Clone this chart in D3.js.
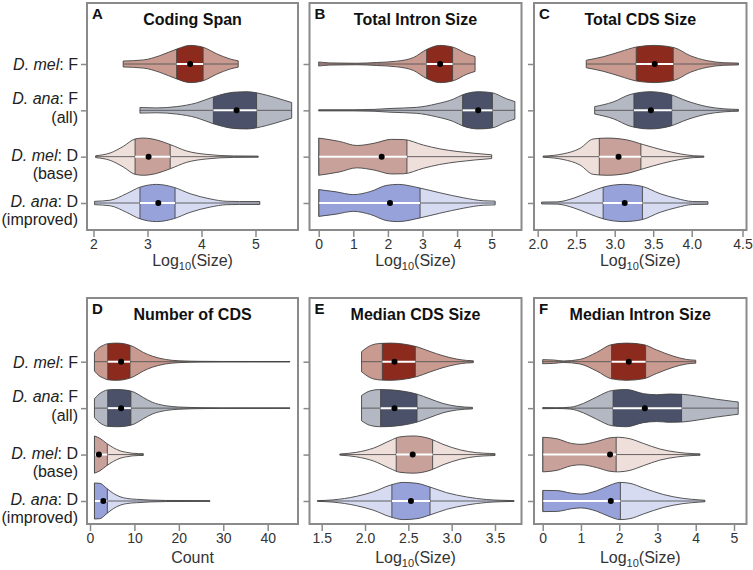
<!DOCTYPE html>
<html><head><meta charset="utf-8">
<script src="https://cdn.jsdelivr.net/npm/d3@7"></script>
<style>
body{margin:0;background:#fff}
svg{display:block}
text{font-family:"Liberation Sans",Arial,Helvetica,sans-serif}
</style>
</head><body>
<svg id="c" width="753" height="570"></svg>
<script>
// ---------------- DATA ----------------
const groups = ["melF", "anaF", "melD", "anaD"];
const speciesNames = ["D. mel", "D. ana", "D. mel", "D. ana"];
const sampleSuffix = [": F", ": F", ": D", ": D"];
const sampleNotes = ["", "(all)", "(base)", "(improved)"];

const panelLetters = ["A", "B", "C", "D", "E", "F"];
const panelTitles = ["Coding Span", "Total Intron Size", "Total CDS Size", "Number of CDS", "Median CDS Size", "Median Intron Size"];
const axisTitles = ["log", "log", "log", "Count", "log", "log"];

const ticksA = [2, 3, 4, 5];
const ticksB = [0, 1, 2, 3, 4, 5];
const ticksC = [2.0, 2.5, 3.0, 3.5, 4.0, 4.5];
const ticksD = [0, 10, 20, 30, 40];
const ticksE = [1.5, 2.0, 2.5, 3.0, 3.5];
const ticksF = [0, 1, 2, 3, 4, 5];

// density profiles: [value, relative half-width]
const codingSpanDensity = [
  [[2.55,0.16],[2.93,0.22],[3.23,0.45],[3.54,0.8],[3.79,1.0],[4.03,0.9],[4.28,0.55],[4.53,0.27],[4.68,0.17]],
  [[2.86,0.15],[3.17,0.13],[3.54,0.2],[3.91,0.4],[4.22,0.72],[4.59,0.97],[4.84,1.0],[5.2,0.82],[5.52,0.55],[5.67,0.42]],
  [[2.04,0.05],[2.31,0.2],[2.55,0.55],[2.77,0.95],[2.92,1.0],[3.17,0.9],[3.42,0.65],[3.73,0.3],[4.1,0.12],[4.59,0.04],[5.05,0.03]],
  [[2.02,0.09],[2.31,0.15],[2.61,0.5],[2.86,0.85],[3.17,1.0],[3.48,0.85],[3.79,0.5],[4.16,0.22],[4.47,0.09],[4.7,0.08],[5.08,0.08]]
];
const codingSpanQuart = [[3.54,4.03],[4.22,5.02],[2.77,3.42],[2.86,3.51]];
const codingSpanMean = [3.79, 4.65, 3.02, 3.2];

const intronTotalDensity = [
  [[0,0.11],[0.3,0.06],[0.62,0.05],[1.1,0.04],[1.68,0.08],[2.25,0.15],[2.74,0.35],[3.12,0.78],[3.5,1.0],[3.89,0.9],[4.28,0.55],[4.52,0.4]],
  [[0,0.03],[1.0,0.03],[1.6,0.05],[2.06,0.1],[2.83,0.16],[3.41,0.35],[3.89,0.6],[4.18,0.85],[4.61,1.0],[5.0,0.95],[5.43,0.62],[5.67,0.47]],
  [[0,1.0],[0.6,0.82],[1.1,0.6],[1.6,0.72],[2.1,0.93],[2.45,0.92],[3.03,0.62],[3.5,0.42],[4.0,0.28],[4.5,0.18],[5.0,0.1]],
  [[0,0.72],[0.5,0.6],[1.0,0.45],[1.5,0.62],[1.97,0.95],[2.3,1.0],[2.93,0.8],[3.5,0.55],[4.18,0.28],[4.76,0.12],[5.1,0.1]]
];
const intronTotalQuart = [[3.12,3.87],[4.16,5.02],[0,2.55],[0,2.93]];
const intronTotalMean = [3.51, 4.61, 1.82, 2.06];

const cdsTotalDensity = [
  [[2.63,0.2],[2.86,0.4],[3.07,0.66],[3.29,0.92],[3.51,1.0],[3.77,0.88],[3.98,0.45],[4.15,0.18],[4.31,0.07],[4.46,0.05]],
  [[2.74,0.2],[2.98,0.45],[3.2,0.85],[3.46,1.0],[3.72,0.85],[3.94,0.5],[4.15,0.2],[4.32,0.08],[4.46,0.05]],
  [[2.07,0.03],[2.33,0.15],[2.55,0.45],[2.72,0.95],[2.9,1.0],[3.16,0.9],[3.37,0.65],[3.63,0.35],[3.85,0.15],[4.02,0.05],[4.12,0.03]],
  [[2.05,0.05],[2.25,0.06],[2.46,0.25],[2.68,0.6],[2.85,0.85],[3.11,1.0],[3.35,0.9],[3.59,0.5],[3.8,0.25],[4.01,0.08],[4.16,0.07]]
];
const cdsTotalQuart = [[3.28,3.76],[3.25,3.74],[2.8,3.34],[2.85,3.36]];
const cdsTotalMean = [3.52, 3.47, 3.05, 3.13];

const cdsCountDensity = [
  [[1,0.5],[2,0.75],[3,0.88],[4,0.97],[6,1.0],[8,0.95],[10,0.78],[12,0.5],[14,0.3],[17,0.12],[20,0.05],[25,0.02],[30,0.012],[45,0.01]],
  [[1,0.5],[2,0.75],[3,0.9],[4,0.98],[6,1.0],[8,0.97],[10,0.85],[12,0.57],[14,0.32],[17,0.13],[20,0.06],[25,0.025],[30,0.012],[45,0.01]],
  [[1,1.0],[2.25,0.87],[3.75,0.6],[5.25,0.37],[6.76,0.2],[8.2,0.12],[9.5,0.07],[11,0.05],[12,0.05]],
  [[1,0.97],[2.25,0.95],[3.75,0.68],[5.25,0.41],[6.76,0.23],[8.2,0.14],[10.5,0.09],[13.5,0.05],[17,0.03],[27,0.02]]
];
const cdsCountQuart = [[4,9],[4,9.2],[1,3.9],[1,3.9]];
const cdsCountMean = [7, 7, 2, 3];

const cdsMedianDensity = [
  [[1.96,0.54],[2.06,0.86],[2.17,0.98],[2.29,1.0],[2.44,0.95],[2.6,0.8],[2.75,0.55],[2.9,0.32],[3.06,0.14],[3.17,0.07],[3.25,0.05]],
  [[1.96,0.68],[2.06,0.93],[2.17,1.0],[2.33,0.97],[2.48,0.88],[2.6,0.75],[2.75,0.5],[2.9,0.25],[3.06,0.1],[3.24,0.04]],
  [[1.71,0.03],[1.9,0.12],[2.1,0.35],[2.29,0.75],[2.4,0.95],[2.56,1.0],[2.75,0.85],[2.9,0.55],[3.1,0.25],[3.29,0.1],[3.44,0.06],[3.5,0.05]],
  [[1.45,0.02],[1.63,0.06],[1.9,0.25],[2.1,0.5],[2.29,0.85],[2.44,1.0],[2.6,0.95],[2.75,0.75],[2.94,0.45],[3.17,0.22],[3.4,0.08],[3.56,0.04],[3.72,0.02]]
];
const cdsMedianQuart = [[2.2,2.58],[2.18,2.6],[2.36,2.78],[2.31,2.75]];
const cdsMedianMean = [2.34, 2.34, 2.55, 2.53];

const intronMedianDensity = [
  [[0,0.11],[0.29,0.09],[0.54,0.04],[0.97,0.12],[1.41,0.5],[1.8,0.92],[2.19,1.0],[2.63,0.92],[2.98,0.63],[3.41,0.3],[3.76,0.12],[4.0,0.08]],
  [[0,0.03],[0.37,0.02],[0.72,0.05],[1.06,0.25],[1.41,0.6],[1.82,0.95],[2.19,1.0],[2.63,0.78],[2.98,0.72],[3.32,0.76],[3.67,0.74],[4.02,0.65],[4.54,0.48],[4.98,0.36],[5.11,0.33]],
  [[0,0.93],[0.37,0.85],[0.75,0.6],[1.0,0.55],[1.41,0.7],[1.76,0.9],[1.98,0.93],[2.28,0.85],[2.63,0.6],[3.06,0.3],[3.5,0.13],[3.93,0.05],[4.11,0.04]],
  [[0,0.57],[0.37,0.56],[0.75,0.42],[1.0,0.37],[1.41,0.55],[1.76,0.85],[2.02,1.0],[2.28,0.95],[2.63,0.7],[3.15,0.35],[3.67,0.14],[4.1,0.06],[4.24,0.04]]
];
const intronMedianQuart = [[1.8,2.69],[1.84,3.63],[0,1.92],[0,2.03]];
const intronMedianMean = [2.25, 2.67, 1.76, 1.78];

// ---------------- LAYOUT / STYLE ----------------
const outerFill = ["#c99a90", "#b4b8c3", "#eedfdb", "#d6dbf1"];
const boxFill = ["#8c2b1d", "#4a5168", "#c9a19b", "#97a2db"];
const frameColor = "#8a8a8a";

const panelData = [
  {ticks: ticksA, dens: codingSpanDensity, quart: codingSpanQuart, mean: codingSpanMean, fmt: d3.format("d"), dom: [2,5], rng: [93.5,255.5]},
  {ticks: ticksB, dens: intronTotalDensity, quart: intronTotalQuart, mean: intronTotalMean, fmt: d3.format("d"), dom: [0,5], rng: [318.7,491.7]},
  {ticks: ticksC, dens: cdsTotalDensity, quart: cdsTotalQuart, mean: cdsTotalMean, fmt: d3.format(".1f"), dom: [2,4,4.5], rng: [537.7,691.7,742.5]},
  {ticks: ticksD, dens: cdsCountDensity, quart: cdsCountQuart, mean: cdsCountMean, fmt: d3.format("d"), dom: [0,40], rng: [90,267.7]},
  {ticks: ticksE, dens: cdsMedianDensity, quart: cdsMedianQuart, mean: cdsMedianMean, fmt: d3.format(".1f"), dom: [1.5,3.5], rng: [321.7,495]},
  {ticks: ticksF, dens: intronMedianDensity, quart: intronMedianQuart, mean: intronMedianMean, fmt: d3.format("d"), dom: [0,5], rng: [542.7,734]}
];

const colX = [87, 309.5, 534], colW = [211, 212, 212.5];
const rowY = [3, 298], rowH = [227, 226];
const rowCenters = [[64, 203], [361.7, 501]];
const tickLabelBase = [249, 543];
const axisTitleBase = [266, 563];
const hw = 18.6;
// y-label line baselines relative to row tick
const labelLines = [[6], [-6, 12.5], [4, 22], [4, 22]];

const svg = d3.select("#c");
const defs = svg.append("defs");

panelData.forEach((P, p) => {
  const col = p % 3, row = Math.floor(p / 3);
  const fx = colX[col], fy = rowY[row], fw = colW[col], fh = rowH[row];
  const x = d3.scaleLinear().domain(P.dom).range(P.rng);
  const y = d3.scalePoint().domain(groups).range(rowCenters[row]);
  const g = svg.append("g");

  // violins
  P.dens.forEach((prof, i) => {
    const cy = y(groups[i]);
    const area = d3.area()
      .x(d => x(d[0]))
      .y0(d => cy - d[1] * hw)
      .y1(d => cy + d[1] * hw)
      .curve(d3.curveMonotoneX);
    const id = `clip-${p}-${i}`;
    defs.append("clipPath").attr("id", id).append("path").attr("d", area(prof));
    g.append("path").attr("d", area(prof)).attr("fill", outerFill[i]);
    const cg = g.append("g").attr("clip-path", `url(#${id})`);
    const [q1, q3] = P.quart[i];
    cg.append("rect")
      .attr("x", x(q1)).attr("width", x(q3) - x(q1))
      .attr("y", cy - hw - 2).attr("height", 2 * hw + 4)
      .attr("fill", boxFill[i]);
    cg.selectAll("line.q").data([q1, q3]).join("line")
      .attr("x1", d => x(d)).attr("x2", d => x(d))
      .attr("y1", cy - hw - 2).attr("y2", cy + hw + 2)
      .attr("stroke", "#444").attr("stroke-width", 0.9);
    const lo = prof[0][0], hi = prof[prof.length - 1][0];
    g.append("line")
      .attr("x1", x(lo)).attr("x2", x(hi)).attr("y1", cy).attr("y2", cy)
      .attr("stroke", "#555").attr("stroke-width", 0.9);
    g.append("line")
      .attr("x1", x(q1)).attr("x2", x(q3)).attr("y1", cy).attr("y2", cy)
      .attr("stroke", "#fff").attr("stroke-width", 2);
    g.append("path").attr("d", area(prof))
      .attr("fill", "none").attr("stroke", "#444").attr("stroke-width", 0.9);
    g.append("circle").attr("cx", x(P.mean[i])).attr("cy", cy).attr("r", 3).attr("fill", "#000");
  });

  // frame
  g.append("rect").attr("x", fx).attr("y", fy).attr("width", fw).attr("height", fh)
    .attr("fill", "none").attr("stroke", frameColor).attr("stroke-width", 2);

  // x axis
  const xa = g.append("g").attr("transform", `translate(0,${fy + fh})`)
    .call(d3.axisBottom(x).tickValues(P.ticks).tickFormat(P.fmt).tickSize(7).tickPadding(2));
  xa.select(".domain").remove();
  xa.selectAll(".tick line").attr("stroke", frameColor).attr("stroke-width", 1.5);
  xa.selectAll(".tick text").attr("font-size", 14).attr("fill", "#333")
    .attr("font-family", "Liberation Sans, Arial, sans-serif")
    .attr("dy", null).attr("y", tickLabelBase[row] - fy - fh);

  // y axis ticks
  const ya = g.append("g").attr("transform", `translate(${fx},0)`)
    .call(d3.axisLeft(y).tickSize(6).tickFormat(""));
  ya.select(".domain").remove();
  ya.selectAll(".tick line").attr("stroke", frameColor).attr("stroke-width", 1.5);

  // axis title
  const cx = fx + fw / 2;
  const at = g.append("text").attr("x", cx).attr("y", axisTitleBase[row])
    .attr("text-anchor", "middle").attr("font-size", 16).attr("fill", "#333");
  if (axisTitles[p] === "log") {
    at.append("tspan").text("Log");
    at.append("tspan").attr("font-size", 11).attr("dy", 4).text("10");
    at.append("tspan").attr("dy", -4).text("(Size)");
  } else {
    at.text(axisTitles[p]);
  }

  // title & letter
  g.append("text").attr("x", cx).attr("y", fy + 21.5).attr("text-anchor", "middle")
    .attr("font-size", 16).attr("font-weight", "bold").attr("fill", "#111").text(panelTitles[p]);
  g.append("text").attr("x", fx + 5).attr("y", fy + 16.3)
    .attr("font-size", 15).attr("font-weight", "bold").attr("fill", "#111").text(panelLetters[p]);

  // y labels for first column
  if (col === 0) {
    groups.forEach((k, i) => {
      const cy = y(k);
      const lines = labelLines[i];
      const t1 = g.append("text").attr("x", 78).attr("y", cy + lines[0])
        .attr("text-anchor", "end").attr("font-size", 16).attr("fill", "#222");
      t1.append("tspan").attr("font-style", "italic").text(speciesNames[i]);
      t1.append("tspan").text(sampleSuffix[i]);
      if (sampleNotes[i]) {
        g.append("text").attr("x", 78).attr("y", cy + lines[1])
          .attr("text-anchor", "end").attr("font-size", 16).attr("fill", "#222")
          .text(sampleNotes[i]);
      }
    });
  }
});
</script>
</body></html>
